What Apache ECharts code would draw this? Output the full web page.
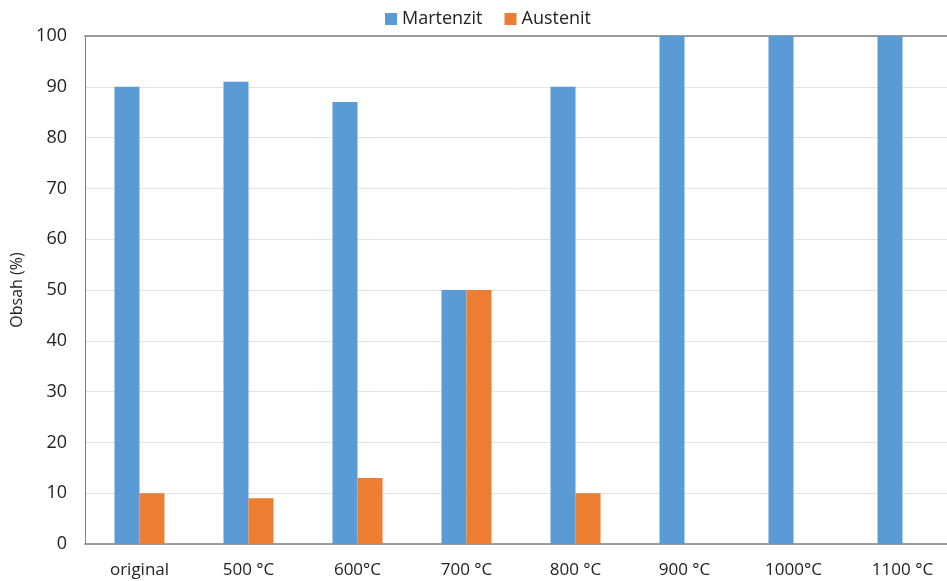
<!DOCTYPE html>
<html>
<head>
<meta charset="utf-8">
<script src="https://cdn.jsdelivr.net/npm/echarts@6/dist/echarts.min.js"></script>
<style>
html, body { margin: 0; padding: 0; background: #fff; }
#main { width: 947px; height: 581px; }
</style>
</head>
<body>
<div id="main"></div>
<script>
var categories = ['original', '500 °C', '600°C', '700 °C', '800 °C', '900 °C', '1000°C', '1100 °C'];
var martenzit = [90, 91, 87, 50, 90, 100, 100, 100];
var austenit = [10, 9, 13, 50, 10, 0, 0, 0];

var myChart = echarts.init(document.getElementById('main'));
var font = 'Open Sans';

var option = {
    animation: false,
    color: ['#5b9bd5', '#ed7d31'],
    textStyle: { fontFamily: font },
    legend: {
        top: 5,
        left: 380,
        itemWidth: 12,
        itemHeight: 12,
        itemGap: 22,
        icon: 'rect',
        textStyle: { color: '#222', fontSize: 18, fontFamily: font },
        data: ['Martenzit', 'Austenit']
    },
    grid: { left: 85, right: -10, top: 36, bottom: 37, outerBoundsMode: 'none' },
    xAxis: [{
        type: 'category',
        data: categories,
        axisLine: { lineStyle: { color: '#808080', width: 1.5 } },
        axisTick: { show: false },
        axisLabel: { color: '#222', fontSize: 17, margin: 18, fontFamily: font }
    }, {
        type: 'category',
        position: 'top',
        data: categories,
        axisLine: { lineStyle: { color: '#9a9a9a', width: 2 } },
        axisTick: { show: false },
        axisLabel: { show: false }
    }],
    yAxis: {
        type: 'value',
        min: 0,
        max: 100,
        interval: 10,
        name: 'Obsah (%)',
        nameLocation: 'middle',
        nameGap: 59,
        nameTextStyle: { color: '#222', fontSize: 16, fontFamily: font },
        axisLine: { show: true, lineStyle: { color: '#808080' } },
        axisTick: { show: false },
        axisLabel: { color: '#222', fontSize: 18, margin: 18, fontFamily: font },
        splitLine: { lineStyle: { color: '#e3e3e3' } }
    },
    series: [{
        name: 'Martenzit',
        type: 'bar',
        data: martenzit,
        barWidth: 25,
        barGap: '0%'
    }, {
        name: 'Austenit',
        type: 'bar',
        data: austenit,
        barWidth: 25
    }]
};

myChart.setOption(option);
</script>
</body>
</html>
